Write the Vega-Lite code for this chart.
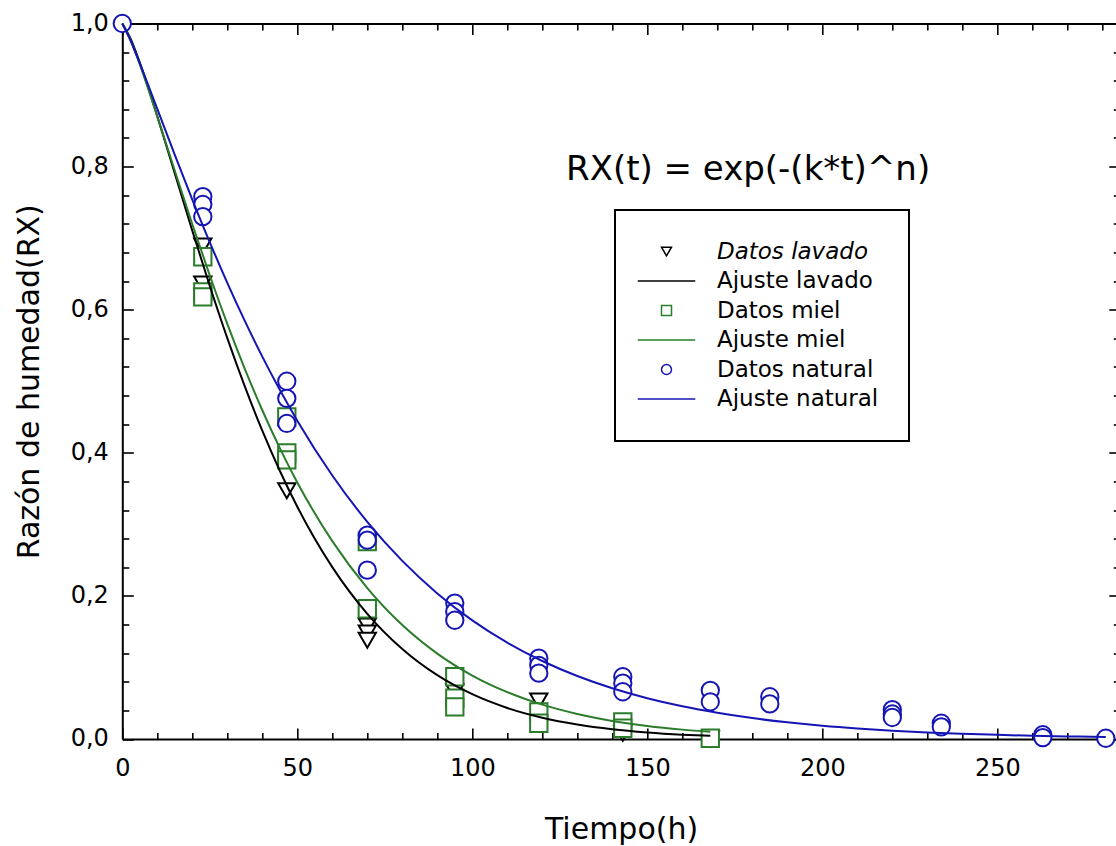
{
  "$schema": "https://vega.github.io/schema/vega-lite/v6.json",
  "width": 997.5,
  "height": 715.5,
  "autosize": {"type": "none"},
  "padding": {"left": 122.3, "top": 23.5, "right": 0, "bottom": 107},
  "background": "white",
  "config": {
    "view": {"stroke": null},
    "font": "DejaVu Sans",
    "legend": {"strokeWidth": 2},
    "axis": {
      "grid": false,
      "domainColor": "black",
      "domainWidth": 2,
      "tickColor": "black",
      "tickWidth": 1.6,
      "labelColor": "black",
      "labelFont": "DejaVu Sans",
      "labelFontSize": 24,
      "labelFlush": false,
      "titleColor": "black",
      "titleFont": "DejaVu Sans",
      "titleFontSize": 30,
      "titleFontWeight": "normal"
    }
  },
  "datasets": {
    "pts": [
      {"serie": "Datos lavado", "t": 23, "rx": 0.689},
      {"serie": "Datos lavado", "t": 23, "rx": 0.636},
      {"serie": "Datos lavado", "t": 47, "rx": 0.347},
      {"serie": "Datos lavado", "t": 70, "rx": 0.158},
      {"serie": "Datos lavado", "t": 70, "rx": 0.148},
      {"serie": "Datos lavado", "t": 70, "rx": 0.138},
      {"serie": "Datos lavado", "t": 95, "rx": 0.066},
      {"serie": "Datos lavado", "t": 119, "rx": 0.053},
      {"serie": "Datos lavado", "t": 143, "rx": 0.008},
      {"serie": "Datos lavado", "t": 168, "rx": 0.0},
      {"serie": "Datos miel", "t": 23, "rx": 0.674},
      {"serie": "Datos miel", "t": 23, "rx": 0.625},
      {"serie": "Datos miel", "t": 23, "rx": 0.618},
      {"serie": "Datos miel", "t": 47, "rx": 0.45},
      {"serie": "Datos miel", "t": 47, "rx": 0.4},
      {"serie": "Datos miel", "t": 47, "rx": 0.39},
      {"serie": "Datos miel", "t": 70, "rx": 0.276},
      {"serie": "Datos miel", "t": 70, "rx": 0.182},
      {"serie": "Datos miel", "t": 95, "rx": 0.087},
      {"serie": "Datos miel", "t": 95, "rx": 0.057},
      {"serie": "Datos miel", "t": 95, "rx": 0.045},
      {"serie": "Datos miel", "t": 119, "rx": 0.038},
      {"serie": "Datos miel", "t": 119, "rx": 0.022},
      {"serie": "Datos miel", "t": 143, "rx": 0.024},
      {"serie": "Datos miel", "t": 143, "rx": 0.015},
      {"serie": "Datos miel", "t": 168, "rx": 0.001},
      {"serie": "Datos natural", "t": 0, "rx": 1.0},
      {"serie": "Datos natural", "t": 23, "rx": 0.758},
      {"serie": "Datos natural", "t": 23, "rx": 0.747},
      {"serie": "Datos natural", "t": 23, "rx": 0.73},
      {"serie": "Datos natural", "t": 47, "rx": 0.5},
      {"serie": "Datos natural", "t": 47, "rx": 0.476},
      {"serie": "Datos natural", "t": 47, "rx": 0.441},
      {"serie": "Datos natural", "t": 70, "rx": 0.285},
      {"serie": "Datos natural", "t": 70, "rx": 0.278},
      {"serie": "Datos natural", "t": 70, "rx": 0.236},
      {"serie": "Datos natural", "t": 95, "rx": 0.19},
      {"serie": "Datos natural", "t": 95, "rx": 0.178},
      {"serie": "Datos natural", "t": 95, "rx": 0.166},
      {"serie": "Datos natural", "t": 119, "rx": 0.113},
      {"serie": "Datos natural", "t": 119, "rx": 0.103},
      {"serie": "Datos natural", "t": 119, "rx": 0.092},
      {"serie": "Datos natural", "t": 143, "rx": 0.087},
      {"serie": "Datos natural", "t": 143, "rx": 0.078},
      {"serie": "Datos natural", "t": 143, "rx": 0.066},
      {"serie": "Datos natural", "t": 168, "rx": 0.068},
      {"serie": "Datos natural", "t": 168, "rx": 0.052},
      {"serie": "Datos natural", "t": 185, "rx": 0.059},
      {"serie": "Datos natural", "t": 185, "rx": 0.049},
      {"serie": "Datos natural", "t": 220, "rx": 0.041},
      {"serie": "Datos natural", "t": 220, "rx": 0.035},
      {"serie": "Datos natural", "t": 220, "rx": 0.03},
      {"serie": "Datos natural", "t": 234, "rx": 0.022},
      {"serie": "Datos natural", "t": 234, "rx": 0.017},
      {"serie": "Datos natural", "t": 263, "rx": 0.006},
      {"serie": "Datos natural", "t": 263, "rx": 0.002},
      {"serie": "Datos natural", "t": 281, "rx": 0.001}
    ],
    "fit": [
      {"serie": "Ajuste lavado", "t": 0, "rx": 1.0},
      {"serie": "Ajuste lavado", "t": 2.5, "rx": 0.9773},
      {"serie": "Ajuste lavado", "t": 5, "rx": 0.9452},
      {"serie": "Ajuste lavado", "t": 10, "rx": 0.8703},
      {"serie": "Ajuste lavado", "t": 15, "rx": 0.7904},
      {"serie": "Ajuste lavado", "t": 20, "rx": 0.7104},
      {"serie": "Ajuste lavado", "t": 25, "rx": 0.6332},
      {"serie": "Ajuste lavado", "t": 30, "rx": 0.5603},
      {"serie": "Ajuste lavado", "t": 35, "rx": 0.4928},
      {"serie": "Ajuste lavado", "t": 40, "rx": 0.4309},
      {"serie": "Ajuste lavado", "t": 45, "rx": 0.3749},
      {"serie": "Ajuste lavado", "t": 50, "rx": 0.3246},
      {"serie": "Ajuste lavado", "t": 60, "rx": 0.2402},
      {"serie": "Ajuste lavado", "t": 70, "rx": 0.175},
      {"serie": "Ajuste lavado", "t": 80, "rx": 0.1258},
      {"serie": "Ajuste lavado", "t": 90, "rx": 0.0892},
      {"serie": "Ajuste lavado", "t": 100, "rx": 0.0626},
      {"serie": "Ajuste lavado", "t": 110, "rx": 0.0434},
      {"serie": "Ajuste lavado", "t": 120, "rx": 0.0298},
      {"serie": "Ajuste lavado", "t": 130, "rx": 0.0203},
      {"serie": "Ajuste lavado", "t": 140, "rx": 0.0137},
      {"serie": "Ajuste lavado", "t": 150, "rx": 0.0092},
      {"serie": "Ajuste lavado", "t": 160, "rx": 0.0061},
      {"serie": "Ajuste lavado", "t": 168, "rx": 0.0044},
      {"serie": "Ajuste miel", "t": 0, "rx": 1.0},
      {"serie": "Ajuste miel", "t": 2.5, "rx": 0.9753},
      {"serie": "Ajuste miel", "t": 5, "rx": 0.9427},
      {"serie": "Ajuste miel", "t": 10, "rx": 0.8699},
      {"serie": "Ajuste miel", "t": 15, "rx": 0.7942},
      {"serie": "Ajuste miel", "t": 20, "rx": 0.7195},
      {"serie": "Ajuste miel", "t": 25, "rx": 0.6478},
      {"serie": "Ajuste miel", "t": 30, "rx": 0.5802},
      {"serie": "Ajuste miel", "t": 35, "rx": 0.5174},
      {"serie": "Ajuste miel", "t": 40, "rx": 0.4595},
      {"serie": "Ajuste miel", "t": 45, "rx": 0.4066},
      {"serie": "Ajuste miel", "t": 50, "rx": 0.3586},
      {"serie": "Ajuste miel", "t": 60, "rx": 0.2765},
      {"serie": "Ajuste miel", "t": 70, "rx": 0.2109},
      {"serie": "Ajuste miel", "t": 80, "rx": 0.1593},
      {"serie": "Ajuste miel", "t": 90, "rx": 0.1194},
      {"serie": "Ajuste miel", "t": 100, "rx": 0.0887},
      {"serie": "Ajuste miel", "t": 110, "rx": 0.0655},
      {"serie": "Ajuste miel", "t": 120, "rx": 0.048},
      {"serie": "Ajuste miel", "t": 130, "rx": 0.035},
      {"serie": "Ajuste miel", "t": 140, "rx": 0.0253},
      {"serie": "Ajuste miel", "t": 150, "rx": 0.0182},
      {"serie": "Ajuste miel", "t": 160, "rx": 0.0131},
      {"serie": "Ajuste miel", "t": 168, "rx": 0.01},
      {"serie": "Ajuste natural", "t": 0, "rx": 1.0},
      {"serie": "Ajuste natural", "t": 2.5, "rx": 0.9745},
      {"serie": "Ajuste natural", "t": 5, "rx": 0.9443},
      {"serie": "Ajuste natural", "t": 10, "rx": 0.8806},
      {"serie": "Ajuste natural", "t": 15, "rx": 0.8164},
      {"serie": "Ajuste natural", "t": 20, "rx": 0.754},
      {"serie": "Ajuste natural", "t": 25, "rx": 0.6942},
      {"serie": "Ajuste natural", "t": 30, "rx": 0.6375},
      {"serie": "Ajuste natural", "t": 35, "rx": 0.5843},
      {"serie": "Ajuste natural", "t": 40, "rx": 0.5344},
      {"serie": "Ajuste natural", "t": 45, "rx": 0.488},
      {"serie": "Ajuste natural", "t": 50, "rx": 0.4449},
      {"serie": "Ajuste natural", "t": 60, "rx": 0.3683},
      {"serie": "Ajuste natural", "t": 70, "rx": 0.3035},
      {"serie": "Ajuste natural", "t": 80, "rx": 0.2489},
      {"serie": "Ajuste natural", "t": 90, "rx": 0.2035},
      {"serie": "Ajuste natural", "t": 100, "rx": 0.1657},
      {"serie": "Ajuste natural", "t": 110, "rx": 0.1346},
      {"serie": "Ajuste natural", "t": 120, "rx": 0.109},
      {"serie": "Ajuste natural", "t": 130, "rx": 0.088},
      {"serie": "Ajuste natural", "t": 140, "rx": 0.0709},
      {"serie": "Ajuste natural", "t": 150, "rx": 0.057},
      {"serie": "Ajuste natural", "t": 160, "rx": 0.0457},
      {"serie": "Ajuste natural", "t": 170, "rx": 0.0366},
      {"serie": "Ajuste natural", "t": 180, "rx": 0.0292},
      {"serie": "Ajuste natural", "t": 190, "rx": 0.0233},
      {"serie": "Ajuste natural", "t": 200, "rx": 0.0185},
      {"serie": "Ajuste natural", "t": 210, "rx": 0.0147},
      {"serie": "Ajuste natural", "t": 220, "rx": 0.0117},
      {"serie": "Ajuste natural", "t": 230, "rx": 0.0092},
      {"serie": "Ajuste natural", "t": 240, "rx": 0.0073},
      {"serie": "Ajuste natural", "t": 250, "rx": 0.0058},
      {"serie": "Ajuste natural", "t": 260, "rx": 0.0045},
      {"serie": "Ajuste natural", "t": 270, "rx": 0.0036},
      {"serie": "Ajuste natural", "t": 281, "rx": 0.0028}
    ],
    "note": [
      {"t": 178.8, "rx": 0.795, "label": "RX(t) = exp(-(k*t)^n)"}
    ]
  },
  "layer": [
    {
      "data": {"name": "pts"},
      "mark": {"type": "point", "filled": false, "fill": "white", "size": 300, "strokeWidth": 2, "opacity": 1},
      "encoding": {
        "x": {
          "field": "t", "type": "quantitative",
          "scale": {"domain": [0, 285], "nice": false, "zero": false},
          "axis": {"orient": "bottom", "values": [0, 50, 100, 150, 200, 250], "tickSize": -11, "labelPadding": 29, "title": "Tiempo(h)", "titlePadding": 34}
        },
        "y": {
          "field": "rx", "type": "quantitative",
          "scale": {"domain": [0, 1], "nice": false, "zero": false},
          "axis": {"orient": "left", "values": [0, 0.2, 0.4, 0.6, 0.8, 1.0], "tickSize": -11, "labelPadding": 25, "labelExpr": "replace(format(datum.value, '.1f'), '.', ',')", "title": "Razón de humedad(RX)", "titlePadding": 26}
        },
        "color": {
          "field": "serie", "type": "nominal",
          "scale": {
            "domain": ["Datos lavado", "Ajuste lavado", "Datos miel", "Ajuste miel", "Datos natural", "Ajuste natural"],
            "range": ["#000000", "#000000", "#2b7c2b", "#2b7c2b", "#1515b5", "#1515b5"]
          },
          "legend": {
            "title": null,
            "orient": "none",
            "legendX": 492.7,
            "legendY": 186.5,
            "padding": 30,
            "strokeColor": "black",
            "fillColor": "white",
            "labelFont": "DejaVu Sans",
            "labelFontSize": 23,
            "labelColor": "black",
            "labelLimit": 400,
            "labelFontStyle": {"expr": "datum.label === 'Datos lavado' ? 'italic' : 'normal'"},
            "rowPadding": 5.5,
            "symbolOffset": 10,
            "labelOffset": 39,
            "encode": {
              "symbols": {"update": {"size": {"value": 120}, "strokeWidth": {"value": 2}, "fill": {"value": "transparent"}, "opacity": {"value": 1}}}
            }
          }
        },
        "shape": {
          "field": "serie", "type": "nominal",
          "scale": {
            "domain": ["Datos lavado", "Ajuste lavado", "Datos miel", "Ajuste miel", "Datos natural", "Ajuste natural"],
            "range": ["triangle-down", "M-5.75,0H5.75", "square", "M-5.75,0H5.75", "circle", "M-5.75,0H5.75"]
          }
        },
        "order": {"field": "serie"}
      }
    },
    {
      "data": {"name": "fit"},
      "transform": [{"filter": "datum.serie !== 'Ajuste natural'"}],
      "mark": {"type": "line", "strokeWidth": 2, "interpolate": "monotone"},
      "encoding": {
        "x": {
          "field": "t", "type": "quantitative",
          "scale": {"domain": [0, 285], "nice": false, "zero": false},
          "axis": {"orient": "bottom", "values": [10,20,30,40,60,70,80,90,110,120,130,140,160,170,180,190,210,220,230,240,260,270,280], "labels": false, "domain": false, "tickSize": -6.5, "title": null}
        },
        "y": {
          "field": "rx", "type": "quantitative",
          "scale": {"domain": [0, 1], "nice": false, "zero": false},
          "axis": {"orient": "left", "values": [0.04,0.08,0.12,0.16,0.24,0.28,0.32,0.36,0.44,0.48,0.52,0.56,0.64,0.68,0.72,0.76,0.84,0.88,0.92,0.96], "labels": false, "domain": false, "tickSize": -6.5, "title": null}
        },
        "color": {"field": "serie", "type": "nominal"}
      }
    },
    {
      "data": {"name": "fit"},
      "transform": [{"filter": "datum.serie === 'Ajuste natural'"}],
      "mark": {"type": "line", "strokeWidth": 2, "interpolate": "monotone"},
      "encoding": {
        "x": {
          "field": "t", "type": "quantitative",
          "scale": {"domain": [0, 285], "nice": false, "zero": false},
          "axis": {"orient": "top", "values": [10,20,30,40,60,70,80,90,110,120,130,140,160,170,180,190,210,220,230,240,260,270,280], "labels": false, "domain": false, "tickSize": -6.5, "title": null}
        },
        "y": {
          "field": "rx", "type": "quantitative",
          "scale": {"domain": [0, 1], "nice": false, "zero": false},
          "axis": {"orient": "right", "values": [0.04,0.08,0.12,0.16,0.24,0.28,0.32,0.36,0.44,0.48,0.52,0.56,0.64,0.68,0.72,0.76,0.84,0.88,0.92,0.96], "labels": false, "domain": false, "tickSize": -6.5, "title": null}
        },
        "color": {"field": "serie", "type": "nominal"}
      }
    },
    {
      "data": {"name": "note"},
      "mark": {"type": "text", "font": "DejaVu Sans", "fontSize": 34, "align": "center", "baseline": "middle", "color": "black"},
      "encoding": {
        "x": {
          "field": "t", "type": "quantitative",
          "scale": {"domain": [0, 285], "nice": false, "zero": false},
          "axis": {"orient": "top", "values": [0, 50, 100, 150, 200, 250], "labels": false, "tickSize": -11, "title": null}
        },
        "y": {
          "field": "rx", "type": "quantitative",
          "scale": {"domain": [0, 1], "nice": false, "zero": false},
          "axis": {"orient": "right", "values": [0, 0.2, 0.4, 0.6, 0.8, 1.0], "labels": false, "tickSize": -11, "title": null}
        },
        "text": {"field": "label"}
      }
    }
  ],
  "resolve": {"axis": {"x": "independent", "y": "independent"}}
}
